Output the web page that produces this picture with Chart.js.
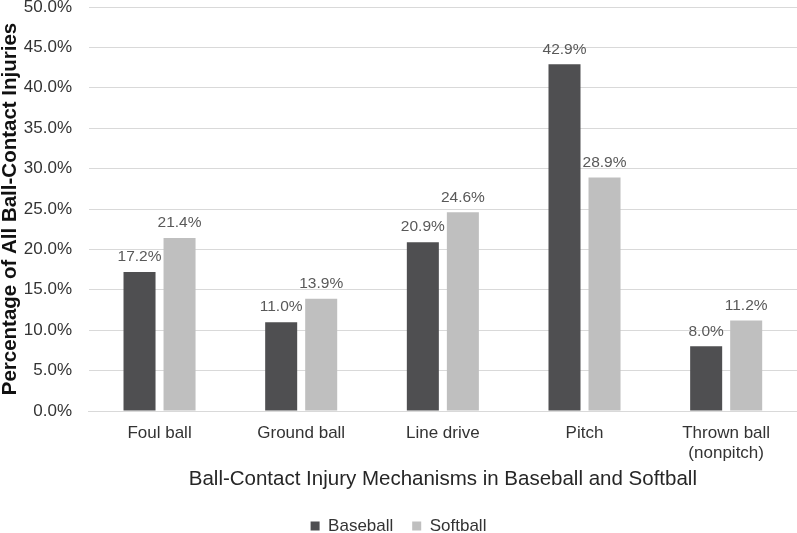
<!DOCTYPE html>
<html>
<head>
    <title>Ball-Contact Injuries</title>
    <style>
        body {
            margin: 0;
            padding: 0;
            background-color: white;
        }
        .chart-container {
            width: 797px;
            height: 533px;
        }
    </style>
    <script src="https://cdn.jsdelivr.net/npm/chart.js@4.4.0/dist/chart.umd.min.js"></script>
</head>
<body>
    <div class="chart-container">
        <canvas id="injuryChart"></canvas>
    </div>

    <script>
        const categories = ['Foul ball', 'Ground ball', 'Line drive', 'Pitch', ['Thrown ball', '(nonpitch)']];
        const baseball = [17.2, 11.0, 20.9, 42.9, 8.0];
        const softball = [21.4, 13.9, 24.6, 28.9, 11.2];

        const FONT = '"Liberation Sans", Arial, sans-serif';

        // draws the percentage above each bar
        const valueLabels = {
            id: 'valueLabels',
            afterDatasetsDraw(chart) {
                const ctx = chart.ctx;
                ctx.save();
                ctx.font = '15.5px ' + FONT;
                ctx.fillStyle = '#595959';
                ctx.textAlign = 'center';
                ctx.textBaseline = 'middle';
                chart.data.datasets.forEach((ds, i) => {
                    chart.getDatasetMeta(i).data.forEach((bar, j) => {
                        ctx.fillText(ds.data[j].toFixed(1) + '%', bar.x, bar.y - 15);
                    });
                });
                ctx.restore();
            }
        };

        const canvas = document.getElementById('injuryChart');
        new Chart(canvas, {
            type: 'bar',
            data: {
                labels: categories,
                datasets: [
                    {
                        label: 'Baseball',
                        data: baseball,
                        backgroundColor: '#4f4f51',
                        categoryPercentage: 0.565,
                        barPercentage: 0.8
                    },
                    {
                        label: 'Softball',
                        data: softball,
                        backgroundColor: '#bfbfbf',
                        categoryPercentage: 0.565,
                        barPercentage: 0.8
                    }
                ]
            },
            options: {
                responsive: true,
                maintainAspectRatio: false,
                animation: false,
                layout: {
                    // legend sits close to the bottom edge, so it is allowed to overhang
                    padding: { top: 7, right: 0, left: 0, bottom: -11.5 }
                },
                plugins: {
                    legend: {
                        position: 'bottom',
                        labels: {
                            boxWidth: 9,
                            boxHeight: 9,
                            padding: 0,
                            color: '#333333',
                            font: { size: 17, family: FONT },
                            // spaces after the first entry give the gap between the two items
                            generateLabels(chart) {
                                const items = Chart.defaults.plugins.legend.labels.generateLabels(chart);
                                items[0].text += '    ';
                                return items;
                            }
                        }
                    },
                    tooltip: { enabled: false }
                },
                scales: {
                    x: {
                        grid: { display: false, drawTicks: false },
                        border: { color: '#d9d9d9', width: 1 },
                        ticks: {
                            color: '#333333',
                            padding: 12,
                            maxRotation: 0,
                            font: { size: 17, family: FONT, lineHeight: 1.176 }
                        },
                        title: {
                            display: true,
                            text: 'Ball-Contact Injury Mechanisms in Baseball and Softball',
                            color: '#262626',
                            padding: { top: -8.3, bottom: 26.2 },
                            font: { size: 20.5, family: FONT }
                        }
                    },
                    y: {
                        min: 0,
                        max: 50,
                        afterFit(scale) {
                            scale.width = 88.7;
                            scale.paddingTop = 0;
                            scale.paddingBottom = 0;
                        },
                        ticks: {
                            stepSize: 5,
                            color: '#333333',
                            padding: 16.7,
                            font: { size: 17, family: FONT },
                            callback: v => v.toFixed(1) + '%'
                        },
                        grid: { color: '#d9d9d9', drawTicks: false },
                        border: { display: false },
                        title: {
                            display: true,
                            text: 'Percentage of All Ball-Contact Injuries',
                            color: '#111111',
                            padding: { top: 0, bottom: 0 },
                            font: { size: 20.5, weight: 'bold', family: FONT, lineHeight: 1 }
                        }
                    }
                }
            },
            plugins: [valueLabels]
        });
    </script>
</body>
</html>
